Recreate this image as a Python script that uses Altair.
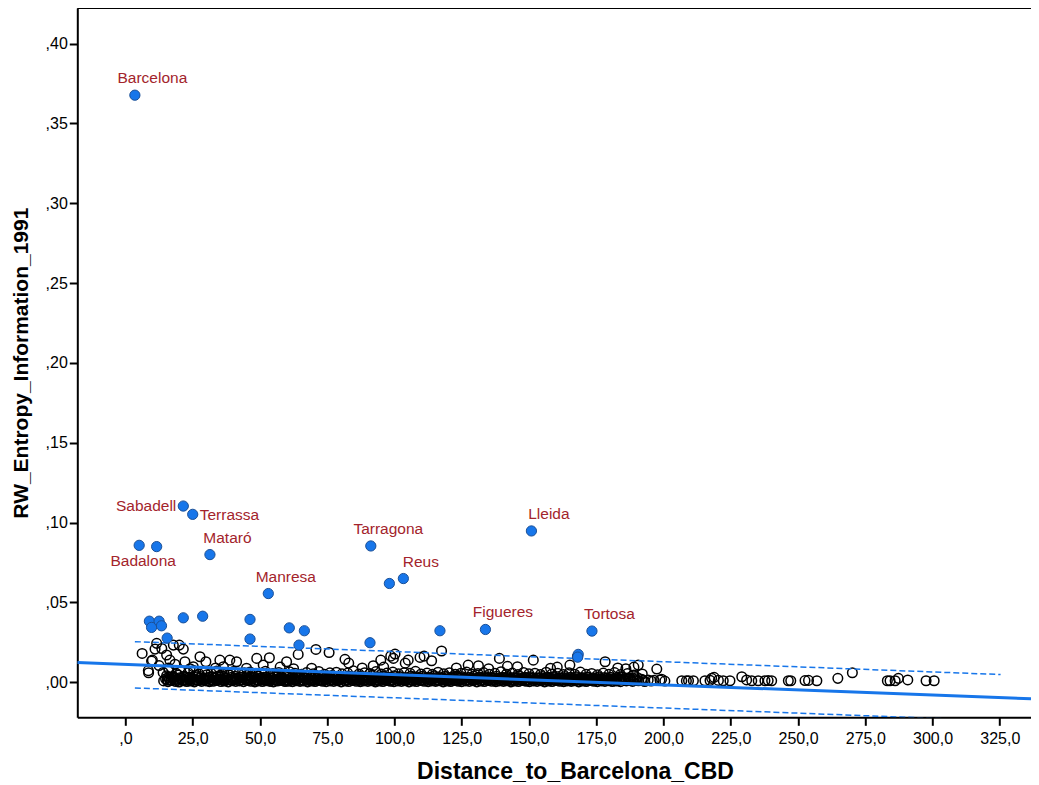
import altair as alt
import pandas as pd

# ---------------- data ----------------
# dense band of municipalities, written as "distance:entropy"
band_row_a = """
14.2:.0009 15.8:.0004 17.1:.0011 18.5:.0006 19.9:.0002 21.4:.0010 22.8:.0005 24.1:.0008 25.6:.0003 27.0:.0011
28.3:.0006 29.9:.0009 31.2:.0004 32.6:.0007 34.0:.0012 35.5:.0005 36.8:.0008 38.2:.0003 39.7:.0010 41.0:.0006
42.4:.0009 43.9:.0004 45.3:.0011 46.6:.0007 48.1:.0003 49.4:.0009 50.9:.0005 52.2:.0010 53.7:.0006 55.0:.0003
56.5:.0008 57.8:.0011 59.3:.0005 60.6:.0007 62.1:.0004 63.4:.0010 64.9:.0006 66.2:.0009 67.7:.0003 69.0:.0008
70.5:.0005 71.8:.0011 73.3:.0007 74.6:.0004 76.1:.0009 77.4:.0006 78.9:.0010 80.2:.0003 81.7:.0008 83.0:.0005
84.5:.0011 85.8:.0007 87.3:.0004 88.6:.0009 90.1:.0006 91.4:.0010 92.9:.0003 94.2:.0008 95.7:.0005 97.0:.0011
98.5:.0007 99.8:.0004 101.3:.0009 102.6:.0006 104.1:.0010 105.4:.0003 106.9:.0008 108.2:.0005 109.7:.0011 111.0:.0007
112.5:.0004 113.8:.0009 115.3:.0006 116.6:.0010 118.1:.0003 119.4:.0008 120.9:.0005 122.2:.0011 123.7:.0007 125.0:.0004
126.5:.0009 127.8:.0006 129.3:.0010 130.6:.0003 132.1:.0008 133.4:.0005 134.9:.0011 136.2:.0007 137.7:.0004 139.0:.0009
140.5:.0006 141.8:.0010 143.3:.0003 144.6:.0008 146.1:.0005 147.4:.0011 148.9:.0007 150.2:.0004 151.7:.0009 153.0:.0006
154.5:.0010 155.8:.0003 157.3:.0008 158.6:.0005 160.1:.0011 161.4:.0007 162.9:.0004 164.2:.0009 165.7:.0006 167.0:.0010
168.5:.0003 169.8:.0008 171.3:.0005 172.6:.0011 174.1:.0007 175.4:.0004 176.9:.0009 178.2:.0006 179.7:.0010 181.0:.0005
182.5:.0008 184.0:.0004 186.2:.0009 188.5:.0006 190.7:.0010 193.0:.0005 195.4:.0008
"""
band_row_b = """
14.9:.0022 16.4:.0017 17.8:.0026 19.2:.0019 20.6:.0024 22.1:.0016 23.5:.0027 24.9:.0020 26.3:.0015 27.7:.0025
29.1:.0018 30.6:.0023 32.0:.0016 33.3:.0027 34.8:.0021 36.1:.0015 37.5:.0024 39.0:.0018 40.3:.0026 41.7:.0020
43.1:.0016 44.6:.0025 46.0:.0019 47.3:.0023 48.8:.0016 50.1:.0027 51.6:.0021 52.9:.0015 54.4:.0024 55.7:.0018
57.1:.0026 58.6:.0020 59.9:.0016 61.4:.0025 62.7:.0019 64.2:.0023 65.5:.0016 67.0:.0027 68.3:.0021 69.8:.0015
71.1:.0024 72.6:.0018 73.9:.0026 75.4:.0020 76.7:.0016 78.2:.0025 79.5:.0019 81.0:.0023 82.3:.0016 83.8:.0027
85.1:.0021 86.6:.0015 87.9:.0024 89.4:.0018 90.7:.0026 92.2:.0020 93.5:.0016 95.0:.0025 96.3:.0019 97.8:.0023
99.1:.0016 100.6:.0027 101.9:.0021 103.4:.0015 104.7:.0024 106.2:.0018 107.5:.0026 109.0:.0020 110.3:.0016 111.8:.0025
113.1:.0019 114.6:.0023 115.9:.0016 117.4:.0026 118.7:.0021 120.2:.0015 121.5:.0024 123.0:.0018 124.3:.0025 125.8:.0020
127.1:.0016 128.6:.0024 129.9:.0019 131.4:.0022 132.7:.0016 134.2:.0025 135.5:.0020 137.0:.0015 138.3:.0023 139.8:.0018
141.1:.0024 142.6:.0019 143.9:.0016 145.4:.0023 146.7:.0018 148.2:.0022 149.5:.0016 151.0:.0024 152.3:.0019 153.8:.0015
155.1:.0022 156.6:.0018 157.9:.0023 159.4:.0017 160.7:.0021 162.2:.0016 163.5:.0024 165.0:.0019 166.3:.0022 167.8:.0017
169.1:.0025 170.6:.0019 171.9:.0016 173.4:.0022 174.7:.0018 176.2:.0021 177.5:.0016 179.0:.0023 180.3:.0018 181.8:.0015
183.3:.0021 185.1:.0017 187.4:.0020 189.6:.0016 191.9:.0019 194.3:.0015
"""
band_row_c = """
15.3:.0041 17.4:.0035 19.6:.0046 21.8:.0038 23.9:.0031 26.1:.0044 28.0:.0036 30.2:.0047 32.3:.0033 34.4:.0040
36.5:.0034 38.7:.0045 40.8:.0037 42.9:.0031 45.0:.0042 47.1:.0035 49.3:.0039 51.4:.0032 53.5:.0044 55.6:.0036
57.7:.0030 59.8:.0041 61.9:.0034 64.0:.0038 66.1:.0031 68.3:.0043 70.4:.0035 72.5:.0039 74.6:.0032 76.7:.0042
78.8:.0036 80.9:.0030 83.0:.0040 85.1:.0034 87.2:.0038 89.3:.0031 91.5:.0042 93.6:.0035 95.7:.0039 97.8:.0032
99.9:.0041 102.0:.0036 104.1:.0030 106.2:.0040 108.3:.0034 110.4:.0038 112.5:.0031 114.7:.0041 116.8:.0035 118.9:.0038
121.0:.0032 123.1:.0040 125.2:.0034 127.4:.0030 129.5:.0037 131.6:.0033 133.7:.0036 135.8:.0030 137.9:.0038 140.1:.0032
142.2:.0035 144.3:.0030 146.4:.0037 148.5:.0032 150.6:.0034 152.8:.0029 154.9:.0036 157.0:.0031 159.1:.0034 161.2:.0029
163.3:.0036 165.5:.0031 167.6:.0035 169.7:.0030 171.8:.0033 173.9:.0029 176.0:.0034 178.2:.0030 180.3:.0032 182.4:.0028
184.8:.0031 187.5:.0027 190.2:.0030
"""
band_row_d = """
14.0:.0062 16.2:.0078 18.9:.0055 20.5:.0068 23.3:.0060 25.4:.0073 27.4:.0052 29.5:.0064 31.8:.0057 33.9:.0070
36.0:.0054 37.9:.0061 40.1:.0067 42.0:.0053 44.2:.0059 46.3:.0065 48.5:.0051 50.6:.0058 52.0:.0069 54.8:.0055
57.0:.0062 59.0:.0052 61.0:.0066 63.0:.0057 65.4:.0050 67.3:.0061 69.8:.0054 71.9:.0068 74.0:.0051 76.0:.0059
78.4:.0063 80.5:.0053 82.6:.0058 84.7:.0072 86.8:.0052 88.9:.0060 90.9:.0055 93.1:.0067 95.2:.0052 97.2:.0058
99.4:.0064 101.5:.0053 103.6:.0060 105.8:.0056 107.8:.0069 109.9:.0052 112.1:.0058 114.1:.0050 116.2:.0063 118.3:.0054
120.4:.0060 122.6:.0051 124.7:.0057 126.8:.0064 128.8:.0050 131.0:.0055 133.1:.0061 135.2:.0050 137.3:.0056 139.6:.0066
141.6:.0051 143.8:.0058 145.9:.0049 148.0:.0062 150.0:.0053 152.2:.0057 154.3:.0049 156.4:.0063 158.5:.0052 160.7:.0056
162.8:.0048 164.9:.0059 167.0:.0051 169.1:.0064 171.2:.0050 173.3:.0055 175.5:.0047 177.6:.0058 179.7:.0050 181.8:.0061
184.0:.0048 186.6:.0055 189.0:.0046 192.1:.0052
"""
band_row_e = """
15.5:.0014 16.9:.0013 18.2:.0016 19.5:.0012 21.0:.0015 22.4:.0013 23.8:.0017 25.2:.0012 26.7:.0015 28.0:.0014
29.5:.0017 30.9:.0012 32.3:.0015 33.7:.0013 35.1:.0016 36.5:.0012 37.9:.0015 39.3:.0014 40.7:.0017 42.1:.0012
43.5:.0015 44.9:.0013 46.3:.0016 47.7:.0012 49.1:.0015 50.5:.0014 51.9:.0017 53.3:.0012 54.7:.0015 56.1:.0013
57.5:.0016 58.9:.0012 60.3:.0015 61.7:.0014 63.1:.0017 64.5:.0012 65.9:.0015 67.3:.0013 68.7:.0016 70.1:.0012
71.5:.0015 72.9:.0014 74.3:.0017 75.7:.0012 77.1:.0015 78.5:.0013 79.9:.0016 81.3:.0012 82.7:.0015 84.1:.0014
85.5:.0017 86.9:.0012 88.3:.0015 89.7:.0013 91.1:.0016 92.5:.0012 93.9:.0015 95.3:.0014 96.7:.0017 98.1:.0012
99.5:.0015 100.9:.0013 102.3:.0016 103.7:.0012 105.1:.0015 106.5:.0014 107.9:.0017 109.3:.0012 110.7:.0015 112.1:.0013
113.5:.0016 114.9:.0012 116.3:.0015 117.7:.0014 119.1:.0017 120.5:.0012 121.9:.0015 123.3:.0013 124.7:.0016 126.1:.0012
127.5:.0015 128.9:.0014 130.3:.0016 131.7:.0012 133.1:.0015 134.5:.0013 135.9:.0016 137.3:.0012 138.7:.0014 140.1:.0013
141.5:.0016 142.9:.0012 144.3:.0014 145.7:.0013 147.1:.0015 148.5:.0012 149.9:.0014 151.3:.0013 152.7:.0015 154.1:.0012
155.5:.0014 156.9:.0013 158.3:.0015 159.7:.0012 161.1:.0014 162.5:.0013 163.9:.0015 165.3:.0012 166.7:.0014 168.1:.0013
169.5:.0015 170.9:.0012 172.3:.0014 173.7:.0013 175.1:.0015 176.5:.0012 177.9:.0014 179.3:.0013 180.7:.0014 182.1:.0012
183.6:.0013 185.6:.0012 187.9:.0013 190.2:.0011 192.5:.0012
"""
band_row_f = """
16.0:.0030 18.0:.0033 20.1:.0028 22.5:.0032 24.5:.0029 26.8:.0034 29.0:.0027 31.0:.0031 33.0:.0029 35.2:.0033
37.2:.0028 39.5:.0032 41.4:.0027 43.6:.0031 45.7:.0029 47.9:.0033 50.0:.0027 52.4:.0031 54.2:.0029 56.3:.0033
58.3:.0027 60.5:.0031 62.6:.0028 64.7:.0032 66.8:.0027 69.0:.0031 71.2:.0028 73.2:.0032 75.2:.0027 77.5:.0031
79.7:.0028 81.7:.0032 83.9:.0027 86.0:.0031 88.1:.0028 90.0:.0032 92.4:.0027 94.4:.0031 96.5:.0028 98.7:.0031
100.7:.0027 102.8:.0030 104.9:.0027 107.0:.0031 109.1:.0028 111.3:.0030 113.3:.0027 115.5:.0030 117.6:.0027 119.7:.0030
121.8:.0026 123.9:.0029 126.0:.0027 128.1:.0030 130.3:.0026 132.4:.0029 134.5:.0026 136.6:.0029 138.7:.0026 140.8:.0028
143.0:.0026 145.1:.0028 147.2:.0025 149.3:.0028 151.4:.0025 153.5:.0027 155.7:.0025 157.8:.0027 159.9:.0024 162.0:.0027
164.1:.0024 166.2:.0026 168.4:.0024 170.5:.0026 172.6:.0023 174.7:.0025 176.8:.0023 179.0:.0025 181.1:.0022 183.5:.0024
186.0:.0021 188.7:.0023
"""
# individually visible hollow circles above the band
upper_points = """
6.2:.0181 10.0:.0139 8.5:.0073 8.6:.0060 9.7:.0133 11.6:.0244 11.0:.0208 13.5:.0212 15.3:.0171 16.5:.0139
17.8:.0233 20.0:.0233 21.5:.0208 18.4:.0113 22.1:.0129 27.7:.0160 29.9:.0129 25.2:.0098 35.1:.0139 38.8:.0139
41.3:.0129 36.4:.0098 48.8:.0150 53.5:.0154 51.2:.0108 59.9:.0129 64.2:.0175 70.8:.0206 75.7:.0187 81.6:.0144
83.0:.0120 92.1:.0104 94.9:.0139 98.6:.0164 100.2:.0177 99.6:.0150 105.1:.0139 109.5:.0156 111.0:.0164 113.8:.0135
117.5:.0196 69.2:.0088 127.4:.0108 131.2:.0104 139.0:.0150 151.6:.0139 145.7:.0098 165.2:.0108 168.0:.0160 178.3:.0129
190.6:.0108 189.0:.0095 197.5:.0083 12.5:.0105 16.0:.0090 24.0:.0085 33.5:.0090 45.0:.0088 57.5:.0095 62.5:.0085
88.0:.0090 96.0:.0095 123.0:.0090 135.0:.0085 158.0:.0088 183.0:.0090 186.0:.0085 160.5:.0095 142.0:.0100 104.0:.0120
"""
# sparse municipalities far from Barcelona
far_points = """
196.5:.0012 198.7:.0014 199.3:.0019 200.5:.0008 206.8:.0010 208.5:.0009 209.3:.0010 211.1:.0010 215.4:.0010 217.3:.0012
217.9:.0025 218.8:.0031 220.4:.0012 222.2:.0010 224.7:.0010 229.1:.0035 230.9:.0015 232.8:.0010 235.2:.0010 237.7:.0010
238.9:.0011 240.2:.0010 246.4:.0010 247.3:.0010 252.6:.0011 253.9:.0012 257.0:.0010 264.8:.0025 270.2:.0060 283.2:.0010
284.2:.0010 286.1:.0010 287.3:.0025 290.8:.0015 297.6:.0010 300.6:.0010
"""

# highlighted (blue) municipalities
city_names = ["Barcelona", "Sabadell", "Terrassa", "Badalona", "", "Mataró", "Manresa",
              "Tarragona", "", "Reus", "Lleida", "Figueres", "Tortosa",
              "", "", "", "", "", "", "", "", "", "", "", "", "", "", "", ""]
city_dist = [3.5, 21.5, 25.0, 5.1, 11.6, 31.4, 53.1,
             91.2, 98.1, 103.3, 150.9, 133.8, 173.4,
             8.9, 9.7, 12.5, 13.4, 15.5, 21.5, 28.7, 46.3, 46.3, 60.9, 66.5, 64.5, 90.9, 116.9, 168.3, 168.1]
city_entropy = [0.3677, 0.1104, 0.1052, 0.0858, 0.0850, 0.0800, 0.0556,
                0.0854, 0.0619, 0.0650, 0.0948, 0.0331, 0.0321,
                0.0383, 0.0344, 0.0383, 0.0354, 0.0277, 0.0404, 0.0414, 0.0394, 0.0271, 0.0341, 0.0323, 0.0233,
                0.0248, 0.0323, 0.0175, 0.0158]

# linear fit and prediction band
fit_intercept = 0.0112
fit_slope = -0.000064
band_half_width = 0.0145
fit_x_range = [-17.9, 336.6]
band_x_range = [3.5, 325.3]

x_ticks = [0, 25, 50, 75, 100, 125, 150, 175, 200, 225, 250, 275, 300, 325]
y_ticks = [0.0, 0.05, 0.10, 0.15, 0.20, 0.25, 0.30, 0.35, 0.40]
x_domain = [-17.9, 336.6]
y_domain = [-0.0219, 0.4223]


def parse(s):
    out = []
    for tok in s.split():
        a, b = tok.split(":")
        out.append({"dist": float(a), "ent": float(b)})
    return out


hollow = pd.DataFrame(parse(band_row_a) + parse(band_row_e) + parse(band_row_b) + parse(band_row_f)
                      + parse(band_row_c) + parse(band_row_d) + parse(upper_points) + parse(far_points))
cities = pd.DataFrame({"name": city_names, "dist": city_dist, "ent": city_entropy})

fit_df = pd.DataFrame({"dist": fit_x_range})
fit_df["ent"] = fit_intercept + fit_slope * fit_df["dist"]
band_df = pd.DataFrame({"dist": band_x_range * 2,
                        "side": ["upper", "upper", "lower", "lower"]})
band_df["ent"] = [fit_intercept + fit_slope * d + (band_half_width if s == "upper" else -band_half_width)
                  for d, s in zip(band_df["dist"], band_df["side"])]

W, H = 953.7, 709.3
FONT = "Liberation Sans"
BLUE = "#1776ea"
RED = "#a3242c"

xscale = alt.Scale(domain=x_domain, nice=False, zero=False)
yscale = alt.Scale(domain=y_domain, nice=False, zero=False)

x_enc = alt.X("dist:Q", scale=xscale, axis=alt.Axis(
    values=x_ticks, title="Distance_to_Barcelona_CBD", grid=False,
    labelExpr="datum.value == 0 ? ',0' : replace(format(datum.value, '.1f'), '.', ',')",
    labelFontSize=16, labelPadding=5, tickSize=8, tickWidth=2, domainWidth=2,
    titleFontSize=23, titleFontWeight="bold", titlePadding=14, titleX=497.7,
    labelFlush=False))
y_enc = alt.Y("ent:Q", scale=yscale, axis=alt.Axis(
    values=y_ticks, title="RW_Entropy_Information_1991", grid=False,
    labelExpr="replace(format(datum.value, '.2f'), '0.', ',')",
    labelFontSize=16, labelPadding=2, tickSize=8, tickWidth=2, domainWidth=2,
    titleFontSize=21, titleFontWeight="bold", titlePadding=14, labelFlush=False))

hollow_layer = alt.Chart(hollow).mark_point(
    shape="circle", filled=False, color="black", size=92, strokeWidth=1.5, opacity=1
).encode(x=x_enc, y=y_enc)

fit_layer = alt.Chart(fit_df).mark_line(color=BLUE, strokeWidth=3, clip=True).encode(
    x=alt.X("dist:Q", scale=xscale), y=alt.Y("ent:Q", scale=yscale))

band_layer = alt.Chart(band_df).mark_line(
    color=BLUE, strokeWidth=1.5, strokeDash=[6, 3], clip=True
).encode(x=alt.X("dist:Q", scale=xscale), y=alt.Y("ent:Q", scale=yscale),
         detail="side:N")

city_layer = alt.Chart(cities).mark_point(
    shape="circle", filled=True, fill=BLUE, stroke="#1b4f96", strokeWidth=1,
    size=105, opacity=1, fillOpacity=1
).encode(x=alt.X("dist:Q", scale=xscale), y=alt.Y("ent:Q", scale=yscale))


def labels(names, **kw):
    base = dict(font=FONT, fontSize=15.5, color=RED, baseline="middle")
    base.update(kw)
    return alt.Chart(cities).transform_filter(
        alt.FieldOneOfPredicate(field="name", oneOf=names)
    ).mark_text(**base).encode(
        x=alt.X("dist:Q", scale=xscale), y=alt.Y("ent:Q", scale=yscale), text="name:N")


lab_main = labels(["Barcelona", "Mataró", "Manresa", "Tarragona", "Reus", "Lleida",
                   "Figueres", "Tortosa"], align="center", dx=17.5, dy=-17)
lab_sab = labels(["Sabadell"], align="right", dx=-7, dy=0)
lab_ter = labels(["Terrassa"], align="left", dx=7, dy=1)
lab_bad = labels(["Badalona"], align="center", dx=4, dy=16)

top_border = alt.Chart(pd.DataFrame({"k": [0]})).mark_rule(
    color="black", strokeWidth=2).encode(
    x=alt.value(0), x2=alt.value(W), y=alt.value(0))

chart = alt.layer(
    hollow_layer, fit_layer, band_layer, city_layer,
    lab_main, lab_sab, lab_ter, lab_bad, top_border
).properties(
    width=W, height=H,
    autosize=alt.AutoSizeParams(type="none"),
    padding={"left": 69.3, "top": 0, "right": 0, "bottom": 68},
    background="white",
).configure_view(stroke=None).configure_axis(
    labelFont=FONT, titleFont=FONT, labelColor="black", titleColor="black",
    domainColor="black", tickColor="black"
)

chart.save("out.html", embed_options={"renderer": "svg", "actions": False})
